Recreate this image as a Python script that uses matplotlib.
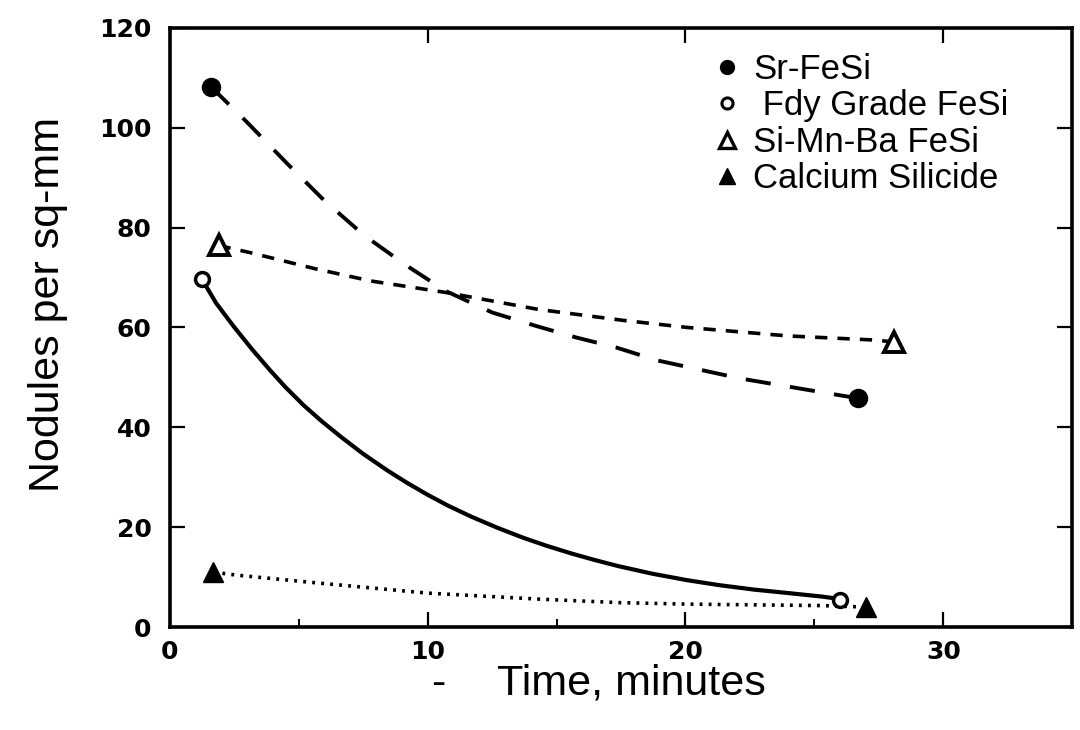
import numpy as np
import matplotlib
matplotlib.use("Agg")
import matplotlib.pyplot as plt
from matplotlib.lines import Line2D

# measured points (time in minutes, nodules per sq-mm)
sr_t = [1.6, 26.7]
sr_n = [108.2, 45.8]
fdy_t = [1.25, 26.0]
fdy_n = [69.7, 5.4]
simnba_t = [1.9, 28.1]
simnba_n = [76.4, 57.1]
casi_t = [1.7, 27.0]
casi_n = [11.0, 4.0]

# fitted curves
sr_curve_t = [1.6, 3.0, 4.56, 6.0, 7.55, 9.18, 10.7, 12.5, 14.2, 15.75, 17.3, 18.9, 20.5, 22.1, 23.7, 25.3, 26.7]
sr_curve_n = [108.2, 101.1, 92.8, 85.4, 78.4, 72.4, 67.3, 63.0, 60.3, 58.0, 56.0, 53.4, 51.6, 49.8, 48.4, 47.0, 45.8]
fdy_curve_t = [1.25, 1.8, 2.47, 3.2, 3.9, 4.5, 5.2, 5.9, 6.64, 7.5, 8.46, 9.2, 10.0, 10.8, 11.7, 12.7,
               13.7, 14.6, 15.6, 16.5, 17.4, 18.7, 20.05, 21.3, 22.66, 24.0, 25.3, 26.0]
fdy_curve_n = [69.7, 64.9, 60.3, 55.6, 51.4, 48.0, 44.4, 41.2, 38.1, 34.7, 31.3, 28.9, 26.5, 24.3, 22.1, 19.9,
               17.9, 16.3, 14.7, 13.4, 12.2, 10.7, 9.4, 8.4, 7.5, 6.8, 6.1, 5.6]
simnba_curve_t = [1.9, 3.1, 5.6, 7.8, 10.7, 14.3, 17.6, 20.05, 23.96, 27.2, 28.1]
simnba_curve_n = [76.4, 75.0, 71.8, 69.3, 67.0, 63.6, 61.4, 60.0, 58.3, 57.5, 57.1]
casi_curve_t = [1.7, 2.6, 5.6, 10.0, 14.3, 17.4, 20.0, 25.3, 27.0]
casi_curve_n = [11.0, 10.4, 8.9, 6.8, 5.6, 4.9, 4.6, 4.3, 4.0]

labels = ["Sr-FeSi", " Fdy Grade FeSi", "Si-Mn-Ba FeSi", "Calcium Silicide"]
xticks = [0, 10, 20, 30]
yticks = [0, 20, 40, 60, 80, 100, 120]

plt.rcParams['font.family'] = ['Liberation Sans', 'DejaVu Sans']

fig = plt.figure(figsize=(10.8, 7.3), dpi=100)
ax = fig.add_axes([0.157, 0.141, 0.836, 0.821])

# curves
ax.plot(sr_curve_t, sr_curve_n, color='black', lw=2.8, linestyle=(0, (6.5, 5.0)))
ax.plot(fdy_curve_t, fdy_curve_n, color='black', lw=3.0, linestyle='-')
ax.plot(simnba_curve_t, simnba_curve_n, color='black', lw=2.6, linestyle=(0, (3.4, 2.8)))
ax.plot(casi_curve_t, casi_curve_n, color='black', lw=2.6, linestyle=(0, (0.8, 1.7)))

# markers
ax.plot(sr_t, sr_n, 'o', color='black', ms=13, zorder=3)
ax.plot(fdy_t, fdy_n, 'o', mfc='white', mec='black', mew=2.5, ms=10, zorder=3)
ax.plot(simnba_t, simnba_n, '^', mfc='white', mec='black', mew=2.8, ms=15, zorder=3)
ax.plot(casi_t, casi_n, '^', color='black', ms=14, zorder=3)

ax.set_xlim(0, 35)
ax.set_ylim(0, 120)
ax.set_xticks(xticks)
ax.set_xticks([5, 15, 25], minor=True)
ax.set_yticks(yticks)
ax.tick_params(axis='both', which='major', direction='in', length=11, width=1.6,
               top=True, right=True, labelsize=18)
ax.tick_params(axis='x', which='minor', direction='in', length=6, width=1.4, top=False)
ax.tick_params(axis='y', which='major', pad=13)
ax.tick_params(axis='x', which='major', pad=9)
for lab in ax.get_xticklabels() + ax.get_yticklabels():
    lab.set_fontfamily('DejaVu Sans')
    lab.set_fontweight('bold')
for s in ax.spines.values():
    s.set_linewidth(2.6)

ax.set_xlabel("Time, minutes", fontsize=31)
ax.xaxis.set_label_coords(0.511, -0.06)
ax.set_ylabel("Nodules per sq-mm", fontsize=31)
ax.yaxis.set_label_coords(-0.113, 0.538)
fig.text(438 / 1080, 1 - 684 / 730, "-", fontsize=31, ha='center', va='center')

handles = [
    Line2D([], [], marker='o', ls='none', color='black', ms=10),
    Line2D([], [], marker='o', ls='none', mfc='white', mec='black', mew=2.2, ms=8),
    Line2D([], [], marker='^', ls='none', mfc='white', mec='black', mew=2.4, ms=12),
    Line2D([], [], marker='^', ls='none', color='black', ms=12),
]
ax.legend(handles, labels, loc='upper left', bbox_to_anchor=(0.602, 0.958), frameon=False,
          fontsize=25, handlelength=0.8, handletextpad=0.35, labelspacing=0.1,
          borderaxespad=0, borderpad=0)

fig.savefig("out.png", dpi=100)
